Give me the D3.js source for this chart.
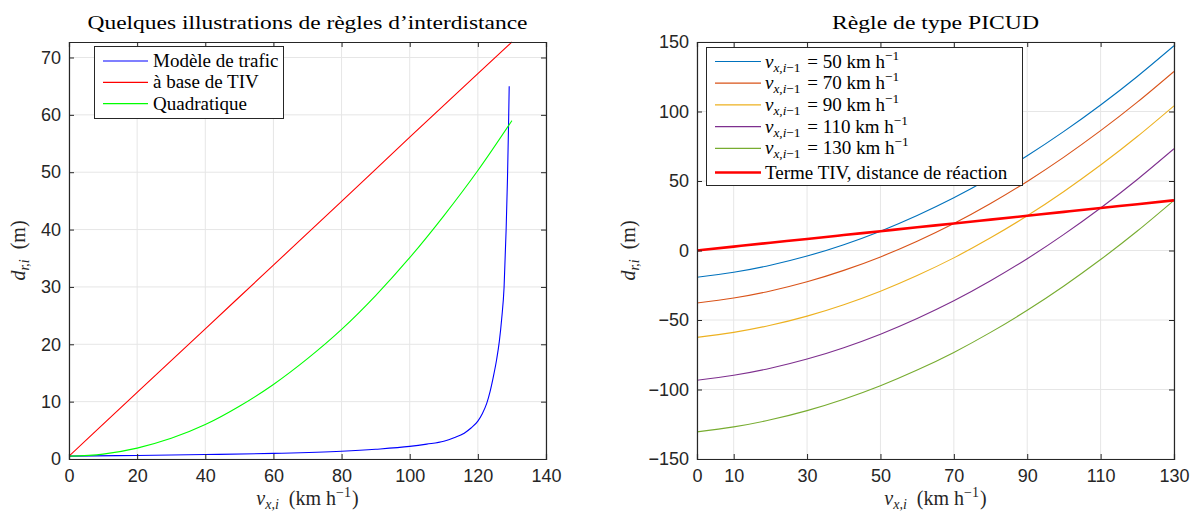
<!DOCTYPE html>
<html><head><meta charset="utf-8">
<script src="https://cdn.jsdelivr.net/npm/d3@7"></script>
<style>
body{margin:0;background:#fff;}
svg{display:block;}
</style></head>
<body>
<svg id="chart" width="1191" height="515"></svg>
<script>
// ---------- DATA ----------
// Left panel
const trafficV = [0, 20, 40, 60, 80, 90, 100, 105, 110, 113, 116, 118, 120, 121.3, 122.6, 123.6, 124.6, 125.5, 126.3, 127, 127.7, 128.3, 128.7, 129.0, 129.2];
const trafficD = [0.5, 0.62, 0.78, 0.98, 1.35, 1.7, 2.2, 2.6, 3.1, 3.7, 4.5, 5.4, 6.6, 7.9, 9.7, 11.8, 14.5, 17.3, 20.5, 24.5, 30, 40, 49, 58, 65];
const tivV = [0, 20, 40, 60, 80, 100, 120, 130];
const tivD = [0.5, 11.6, 22.7, 33.8, 44.9, 56.1, 67.2, 72.7];
const quadV = [0, 10, 20, 30, 40, 50, 60, 70, 80, 90, 100, 110, 120, 130];
const quadD = [0.5, 0.85, 1.9, 3.6, 6.0, 9.2, 13.0, 17.5, 22.6, 28.5, 35.1, 42.4, 50.3, 59.0];
const leftXTicks = [0, 20, 40, 60, 80, 100, 120, 140];
const leftYTicks = [0, 10, 20, 30, 40, 50, 60, 70];
const leftNames = ["Modèle de trafic", "à base de TIV", "Quadratique"];

// Right panel
const rightV = [0, 10, 20, 30, 40, 50, 60, 70, 80, 90, 100, 110, 120, 130];
const picud50  = [-19.3, -15.7, -10.6, -4.0, 4.2, 13.9, 25.2, 37.9, 52.3, 68.2, 85.7, 104.7, 125.2, 147.3];
const picud70  = [-37.8, -34.2, -29.1, -22.5, -14.3, -4.6, 6.7, 19.4, 33.8, 49.7, 67.2, 86.2, 106.7, 128.8];
const picud90  = [-62.5, -58.9, -53.8, -47.2, -39.0, -29.3, -18.0, -5.3, 9.1, 25.0, 42.5, 61.5, 82.0, 104.1];
const picud110 = [-93.4, -89.8, -84.7, -78.1, -69.9, -60.2, -48.9, -36.2, -21.8, -5.9, 11.6, 30.6, 51.1, 73.2];
const picud130 = [-130.5, -126.9, -121.8, -115.2, -107.0, -97.3, -86.0, -73.3, -58.9, -43.0, -25.5, -6.5, 14.0, 36.1];
const reactionD = [0, 2.8, 5.6, 8.3, 11.1, 13.9, 16.7, 19.4, 22.2, 25.0, 27.8, 30.6, 33.3, 36.1];
const leaderSpeeds = ["50", "70", "90", "110", "130"];
const rightXTicks = [0, 10, 30, 50, 70, 90, 110, 130];
const rightYTicks = [-150, -100, -50, 0, 50, 100, 150];

// ---------- DRAWING ----------
const svg = d3.select("#chart");
const AX = "#262626", GRID = "#e6e6e6";
const SERIF = "'Liberation Serif', 'DejaVu Serif', serif";
const SANS = "'Liberation Sans', Arial, sans-serif";

function rich(sel, parts, size) {
  let shift = 0;
  parts.forEach(p => {
    const target = p.sub ? size * 0.22 : (p.sup ? -size * 0.42 : 0);
    const ts = sel.append("tspan").text(p.t)
      .attr("font-size", (p.sub || p.sup) ? size * 0.7 : size)
      .attr("font-style", p.i ? "italic" : "normal");
    if (p.dx) ts.attr("dx", p.dx);
    if (target !== shift) ts.attr("dy", target - shift);
    shift = target;
  });
}

function panel(cfg) {
  const g = svg.append("g");
  const x = d3.scaleLinear().domain(cfg.xd).range([cfg.x0, cfg.x1]);
  const y = d3.scaleLinear().domain(cfg.yd).range([cfg.y1, cfg.y0]);
  // grid
  g.append("g").selectAll("line").data(cfg.xt).join("line")
    .attr("x1", d => x(d)).attr("x2", d => x(d)).attr("y1", cfg.y0).attr("y2", cfg.y1)
    .attr("stroke", GRID).attr("stroke-width", 1);
  g.append("g").selectAll("line").data(cfg.yt).join("line")
    .attr("y1", d => y(d)).attr("y2", d => y(d)).attr("x1", cfg.x0).attr("x2", cfg.x1)
    .attr("stroke", GRID).attr("stroke-width", 1);
  // clip
  const cid = "clip" + cfg.id;
  svg.append("clipPath").attr("id", cid).append("rect")
    .attr("x", cfg.x0).attr("y", cfg.y0 - 1).attr("width", cfg.x1 - cfg.x0).attr("height", cfg.y1 - cfg.y0 + 2);
  const plot = g.append("g").attr("clip-path", `url(#${cid})`);
  // axes (inside ticks, box)
  const tl = 5;
  const axB = d3.axisBottom(x).tickValues(cfg.xt).tickSize(-tl).tickPadding(10).tickFormat(d3.format("d"));
  const axT = d3.axisTop(x).tickValues(cfg.xt).tickSize(-tl).tickFormat("");
  const axL = d3.axisLeft(y).tickValues(cfg.yt).tickSize(-tl).tickPadding(8).tickFormat(d3.format("d"));
  const axR = d3.axisRight(y).tickValues(cfg.yt).tickSize(-tl).tickFormat("");
  const style = a => {
    a.select(".domain").attr("stroke", AX).attr("stroke-width", 1.2);
    a.selectAll(".tick line").attr("stroke", AX);
    a.selectAll(".tick text").attr("fill", AX).attr("font-family", SANS).attr("font-size", 18);
    a.attr("font-family", null);
  };
  g.append("g").attr("transform", `translate(0,${cfg.y1})`).call(axB).call(style);
  g.append("g").attr("transform", `translate(0,${cfg.y0})`).call(axT).call(style);
  g.append("g").attr("transform", `translate(${cfg.x0},0)`).call(axL).call(style);
  g.append("g").attr("transform", `translate(${cfg.x1},0)`).call(axR).call(style);
  // title
  g.append("text").attr("x", (cfg.x0 + cfg.x1) / 2).attr("y", 29).attr("text-anchor", "middle")
    .attr("font-family", SERIF).attr("font-size", 19).attr("fill", "#000")
    .attr("textLength", cfg.titleW).attr("lengthAdjust", "spacingAndGlyphs").text(cfg.title);
  // x label
  const xl = g.append("text").attr("x", (cfg.x0 + cfg.x1) / 2).attr("y", 505).attr("text-anchor", "middle")
    .attr("font-family", SERIF).attr("fill", AX);
  rich(xl, [{t: "v", i: 1}, {t: "x,i", i: 1, sub: 1}, {t: " (km h", dx: 5}, {t: "−1", sup: 1}, {t: ")", dx: 1}], 20);
  // y label
  const yl = g.append("text").attr("transform", `translate(${cfg.x0 - cfg.ylOff},${(cfg.y0 + cfg.y1) / 2}) rotate(-90)`)
    .attr("text-anchor", "middle").attr("font-family", SERIF).attr("fill", AX);
  rich(yl, [{t: "d", i: 1}, {t: "r,i", i: 1, sub: 1}, {t: " (m)", dx: 5}], 20);
  return {x, y, plot, g};
}

// Left panel
const L = panel({id: "L", x0: 69, x1: 546, y0: 42, y1: 459, xd: [0, 140], yd: [0, 72.7],
  xt: leftXTicks, yt: leftYTicks, title: "Quelques illustrations de règles d’interdistance", titleW: 440, ylOff: 44});
const lineL = (vs, ds) => d3.line().x((d, i) => L.x(vs[i])).y((d, i) => L.y(ds[i])).curve(d3.curveMonotoneX)(ds);
const leftSeries = [
  {v: trafficV, d: trafficD, c: "#0000ff"},
  {v: tivV, d: tivD, c: "#ff0000"},
  {v: quadV, d: quadD, c: "#00ff00"}
];
leftSeries.forEach(s => L.plot.append("path").attr("d", lineL(s.v, s.d)).attr("fill", "none")
  .attr("stroke", s.c).attr("stroke-width", 1.1));

// Left legend
{
  const lg = svg.append("g");
  lg.append("rect").attr("x", 94.5).attr("y", 46.5).attr("width", 189).attr("height", 72)
    .attr("fill", "#fff").attr("stroke", AX).attr("stroke-width", 1);
  leftSeries.forEach((s, i) => {
    const yy = 61 + i * 21.3;
    lg.append("line").attr("x1", 103).attr("x2", 148).attr("y1", yy).attr("y2", yy).attr("stroke", s.c).attr("stroke-width", 1.2);
    lg.append("text").attr("x", 153).attr("y", yy + 6).attr("font-family", SERIF).attr("font-size", 19).attr("fill", "#000").text(leftNames[i]);
  });
}

// Right panel
const R = panel({id: "R", x0: 697, x1: 1174, y0: 42, y1: 459, xd: [0, 130], yd: [-150, 150],
  xt: rightXTicks, yt: rightYTicks, title: "Règle de type PICUD", titleW: 207, ylOff: 62});
const lineR = ds => d3.line().x((d, i) => R.x(rightV[i])).y(d => R.y(d)).curve(d3.curveNatural)(ds);
const rightSeries = [
  {d: picud50, c: "#0072BD", w: 1.1},
  {d: picud70, c: "#D95319", w: 1.1},
  {d: picud90, c: "#EDB120", w: 1.1},
  {d: picud110, c: "#7E2F8E", w: 1.1},
  {d: picud130, c: "#77AC30", w: 1.1},
  {d: reactionD, c: "#ff0000", w: 2.6}
];
rightSeries.forEach(s => R.plot.append("path").attr("d", lineR(s.d)).attr("fill", "none")
  .attr("stroke", s.c).attr("stroke-width", s.w));

// Right legend
{
  const lg = svg.append("g");
  lg.append("rect").attr("x", 706.5).attr("y", 47.5).attr("width", 316).attr("height", 138)
    .attr("fill", "#fff").attr("stroke", AX).attr("stroke-width", 1);
  rightSeries.forEach((s, i) => {
    const yy = i < 5 ? 61.5 + i * 21.7 : 172.5;
    lg.append("line").attr("x1", 715).attr("x2", 761).attr("y1", yy).attr("y2", yy).attr("stroke", s.c).attr("stroke-width", s.w === 1.1 ? 1.2 : 2.6);
    const t = lg.append("text").attr("x", 765).attr("y", yy + 6).attr("font-family", SERIF).attr("fill", "#000");
    if (i < 5) {
      rich(t, [{t: "v", i: 1}, {t: "x,i", i: 1, sub: 1}, {t: "−1", sub: 1}, {t: " = " + leaderSpeeds[i] + " km h", dx: 2}, {t: "−1", sup: 1}], 19);
    } else {
      rich(t, [{t: "Terme TIV, distance de réaction"}], 19);
    }
  });
}
</script>
</body></html>
